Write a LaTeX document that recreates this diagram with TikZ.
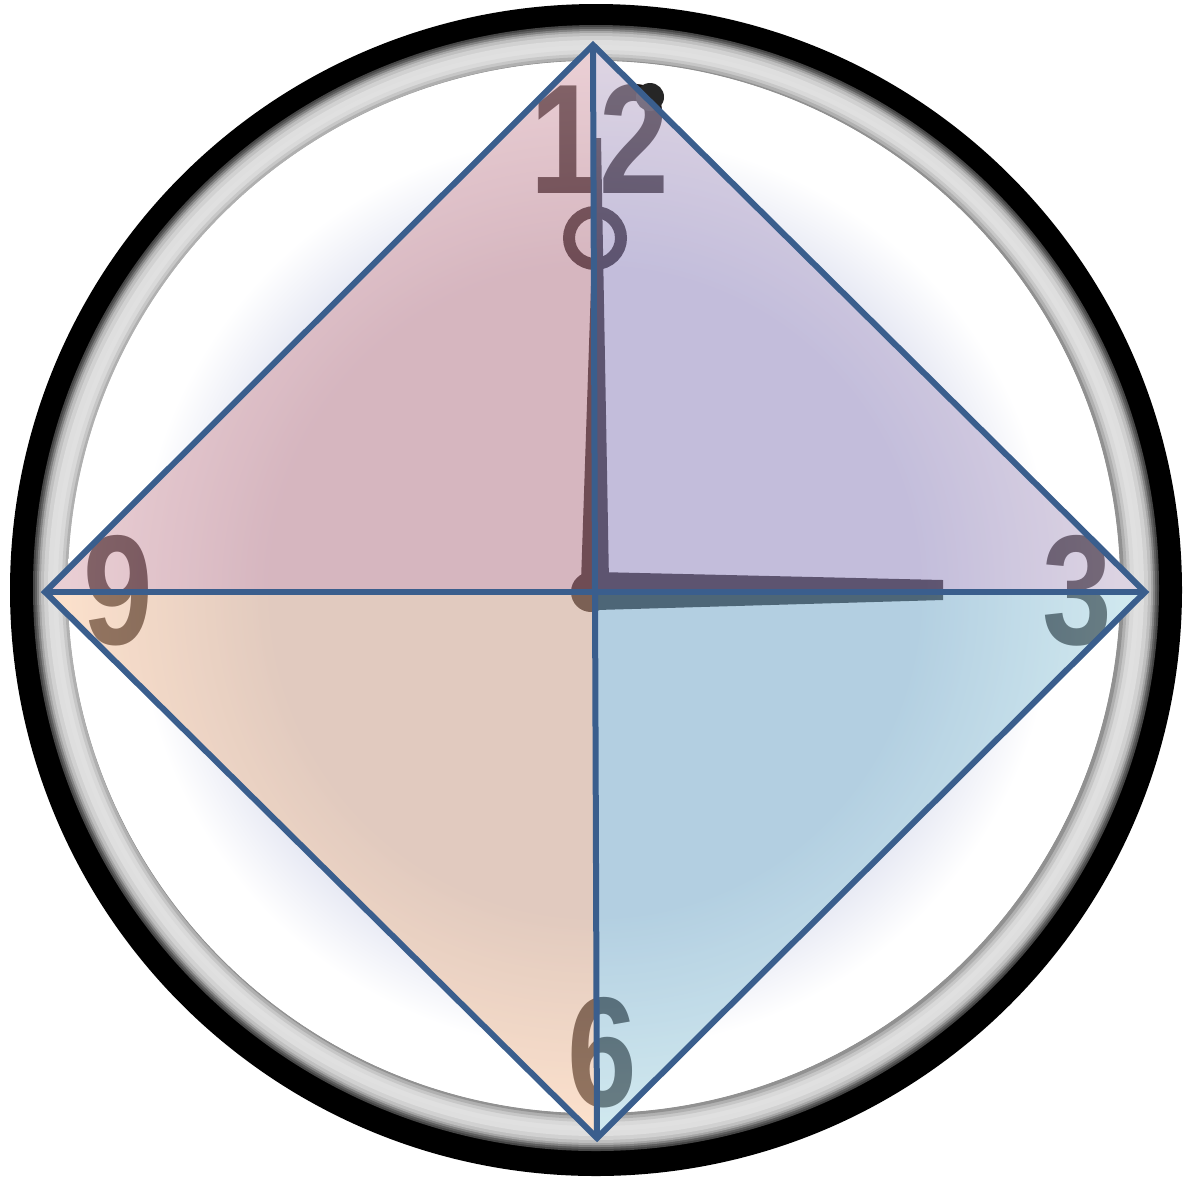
\documentclass[tikz,border=0pt]{standalone}
\usepackage{fontspec}
\setmainfont{Liberation Sans}
\usepackage{graphicx}

\definecolor{lineblue}{HTML}{3A5E8D}
\definecolor{glowc}{HTML}{E8EAF4}
\definecolor{inkc}{RGB}{22,14,12}
\definecolor{pinkC}{RGB}{182,125,142}
\definecolor{pinkE}{RGB}{217,168,178}
\definecolor{lavC}{RGB}{149,139,192}
\definecolor{lavE}{RGB}{194,178,205}
\definecolor{peachC}{RGB}{203,162,141}
\definecolor{peachE}{RGB}{248,200,164}
\definecolor{blueC}{RGB}{121,171,203}
\definecolor{blueE}{RGB}{171,214,226}

% 25bp is the radius of the shaded circle
\pgfdeclareradialshading{glowshade}{\pgfpointorigin}{color(0bp)=(glowc); color(17.5bp)=(glowc);
  color(20.5bp)=(white); color(50bp)=(white)}
\pgfdeclareradialshading{pinkshade}{\pgfpointorigin}{color(0bp)=(pinkC); color(14.5bp)=(pinkC);
  color(23.5bp)=(pinkE); color(50bp)=(pinkE)}
\pgfdeclareradialshading{lavshade}{\pgfpointorigin}{color(0bp)=(lavC); color(14.5bp)=(lavC);
  color(23.5bp)=(lavE); color(50bp)=(lavE)}
\pgfdeclareradialshading{peachshade}{\pgfpointorigin}{color(0bp)=(peachC); color(14.5bp)=(peachC);
  color(23.5bp)=(peachE); color(50bp)=(peachE)}
\pgfdeclareradialshading{blueshade}{\pgfpointorigin}{color(0bp)=(blueC); color(14.5bp)=(blueC);
  color(23.5bp)=(blueE); color(50bp)=(blueE)}

\begin{document}
\begin{tikzpicture}[
    x=0.02cm, y=-0.02cm,
    numeral/.style={font=\fontsize{89}{89}\selectfont\bfseries, inner sep=0pt, text=inkc},
    diag/.style={draw=lineblue, line width=0.12cm},
    tint/.style={fill opacity=0.56}
]
\useasboundingbox (0,0) rectangle (1194,1178);
\coordinate (centre) at (595,592);
\coordinate (n12) at (593,45);
\coordinate (n3) at (1145,592);
\coordinate (n6) at (597,1138);
\coordinate (n9) at (45,592);

% clock case
\fill[black] (596,590) circle (586);
\foreach \rad/\k in {563/73, 561/63, 559/49, 557/35, 555/25, 552/18, 548/13,
                     543/12, 538/15, 534/22, 531/31, 528/43}
  \fill[black!\k] (596,588) circle (\rad);
\fill[white] (594,587) circle (526);
\begin{scope}
  \clip (594,587) circle (526);
  \shade[shading=glowshade] (centre) circle (560);
\end{scope}
\fill[white] (n12) -- (n3) -- (n6) -- (n9) -- cycle;

% numerals and hands, tinted later by the faces
\node[numeral] (twelve) at (600,139) {\scalebox{0.8}[1]{12}};
\node[numeral] (three) at (1077,591) {\scalebox{0.8}[1]{3}};
\node[numeral] (six) at (602,1053) {\scalebox{0.8}[1]{6}};
\node[numeral] (nine) at (118,591) {\scalebox{0.8}[1]{9}};
\fill[inkc] (581,582) -- (609,582) -- (601,138) -- (596,138) -- cycle;
\fill[inkc] (597,572) -- (943,580) -- (943,600) -- (597,610) -- cycle;
\fill[inkc] (591,592) circle (20);
\draw[inkc, line width=0.24cm] (595,238) circle (26);
\fill[black!85] (650,97) circle (14);

% quarter faces
\foreach \a/\b/\sh in {n12/n9/pinkshade, n12/n3/lavshade, n6/n9/peachshade, n6/n3/blueshade} {
  \begin{scope}
    \clip (centre) -- (\a) -- (\b) -- cycle;
    \shade[shading=\sh, tint] (centre) circle (560);
  \end{scope}
}

\draw[diag] (n12) -- (n3) -- (n6) -- (n9) -- cycle;
\draw[diag] (n12) -- (n6);
\draw[diag] (n9) -- (n3);
\end{tikzpicture}
\end{document}
